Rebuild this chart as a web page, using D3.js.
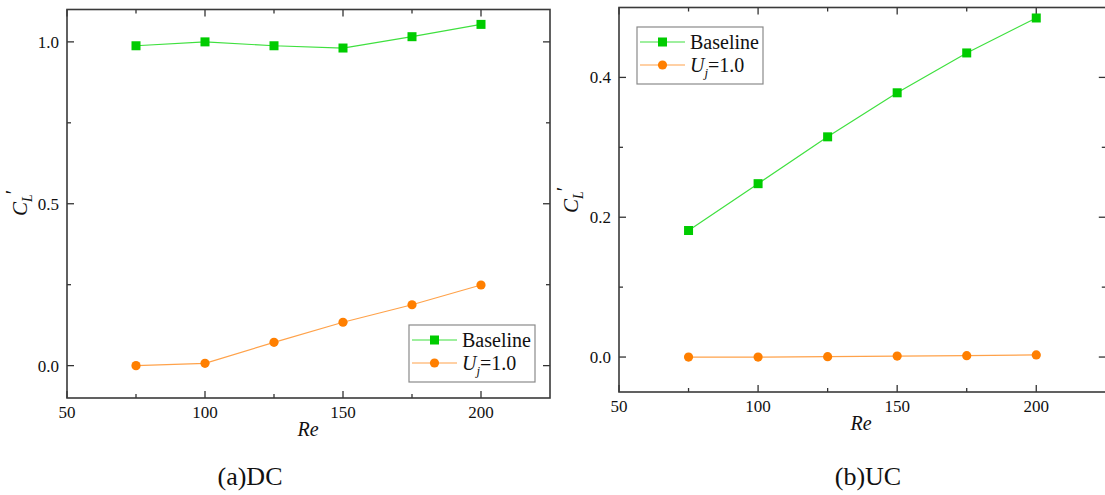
<!DOCTYPE html>
<html>
<head>
<meta charset="utf-8">
<style>
  @font-face { font-family: "ChartSerif"; src: local("Liberation Serif"), local("LiberationSerif"), local("Tinos"); font-style: normal; }
  @font-face { font-family: "ChartSerif"; src: local("Liberation Serif Italic"), local("LiberationSerif-Italic"), local("Tinos Italic"); font-style: italic; }
</style>
</head>
<body style="margin: 0; background: #fff;">
<script src="https://d3js.org/d3.v7.min.js"></script>
<script>

  // Reynolds numbers shared by both panels
  var reValues = [75, 100, 125, 150, 175, 200];

  // (a) DC
  var dcBaseline = [0.988, 1.0, 0.988, 0.981, 1.016, 1.054];
  var dcJet = [0.0, 0.007, 0.072, 0.134, 0.188, 0.249];
  var dcYTicks = [0.0, 0.5, 1.0];
  var dcYMinor = [0.25, 0.75];

  // (b) UC
  var ucBaseline = [0.181, 0.248, 0.315, 0.378, 0.435, 0.485];
  var ucJet = [0.0, 0.0, 0.0005, 0.0014, 0.002, 0.003];
  var ucYTicks = [0.0, 0.2, 0.4];
  var ucYMinor = [0.1, 0.3];

  var xTicks = [50, 100, 150, 200];
  var xMinor = [75, 125, 175];
  var seriesNames = ["Baseline", "Uj=1.0"];

  var width = 1105;
  var height = 495;
  var serif = "'Liberation Serif', ChartSerif, Tinos, 'Times New Roman', monospace";

  var svg = d3.select("body")
      .append("svg")
      .attr("width", width)
      .attr("height", height);

  var green = {line: "#3fe03f", fill: "#00cc00"};
  var orange = {line: "#ffa24a", fill: "#ff7f00"};

  function label(sel, size) {
    return sel.append("text")
        .attr("style", "font-family: " + serif + "; font-size: " + size + "px;")
        .attr("fill", "#111");
  }

  function drawPanel(p) {
    var x = d3.scaleLinear().domain([50, 225]).range([p.left, p.right]);
    var y = d3.scaleLinear().domain(p.yDomain).range([p.bottom, p.top]);
    var g = svg.append("g");

    // inward ticks, built by hand from the scales
    function ticks(values, size, side, labels) {
      values.forEach(function (v) {
        if (side === "bottom" || side === "top") {
          var yy = side === "bottom" ? p.bottom : p.top;
          var dir = side === "bottom" ? -1 : 1;
          g.append("line")
              .attr("x1", x(v)).attr("x2", x(v))
              .attr("y1", yy).attr("y2", yy + dir * size)
              .attr("stroke", "#333").attr("stroke-width", 1.3);
          if (labels) {
            label(g, 17).attr("x", x(v)).attr("y", p.bottom + 20)
                .attr("text-anchor", "middle").text(v);
          }
        } else {
          var xx = side === "left" ? p.left : p.right;
          var d = side === "left" ? 1 : -1;
          g.append("line")
              .attr("x1", xx).attr("x2", xx + d * size)
              .attr("y1", y(v)).attr("y2", y(v))
              .attr("stroke", "#333").attr("stroke-width", 1.3);
          if (labels) {
            label(g, 17).attr("x", p.left - 8).attr("y", y(v) + 6)
                .attr("text-anchor", "end").text(d3.format(".1f")(v));
          }
        }
      });
    }

    ticks(xTicks, 7, "bottom", true);
    ticks(xMinor, 4, "bottom", false);
    ticks(xTicks, 7, "top", false);
    ticks(xMinor, 4, "top", false);
    ticks(p.yTicks, 7, "left", true);
    ticks(p.yMinor, 4, "left", false);
    ticks(p.yTicks, 7, "right", false);
    ticks(p.yMinor, 4, "right", false);

    // frame
    g.append("rect")
        .attr("x", p.left).attr("y", p.top)
        .attr("width", p.right - p.left).attr("height", p.bottom - p.top)
        .attr("fill", "none").attr("stroke", "#3a3a3a").attr("stroke-width", 1.6);

    var line = d3.line()
        .x(function (d, i) { return x(reValues[i]); })
        .y(function (d) { return y(d); });

    // baseline series (squares)
    g.append("path").datum(p.baseline)
        .attr("d", line).attr("fill", "none")
        .attr("stroke", green.line).attr("stroke-width", 1.2);
    g.selectAll(".sq").data(p.baseline).enter()
        .append("rect")
        .attr("x", function (d, i) { return x(reValues[i]) - 4.5; })
        .attr("y", function (d) { return y(d) - 4.5; })
        .attr("width", 9).attr("height", 9)
        .attr("fill", green.fill);

    // jet series (circles)
    g.append("path").datum(p.jet)
        .attr("d", line).attr("fill", "none")
        .attr("stroke", orange.line).attr("stroke-width", 1.2);
    g.selectAll(".dot").data(p.jet).enter()
        .append("circle")
        .attr("cx", function (d, i) { return x(reValues[i]); })
        .attr("cy", function (d) { return y(d); })
        .attr("r", 4.6)
        .attr("fill", orange.fill);

    // axis titles
    label(g, 20)
        .attr("x", p.reX).attr("y", p.bottom + 38)
        .attr("text-anchor", "middle")
        .style("font-style", "italic")
        .text("Re");

    var yl = label(g, 21)
        .attr("transform", "translate(" + p.ylX + "," + p.ylY + ") rotate(-90)")
        .attr("text-anchor", "middle");
    yl.append("tspan").style("font-style", "italic").text("C");
    yl.append("tspan").style("font-style", "italic").style("font-size", "14px")
        .attr("dy", 5).text("L");
    yl.append("tspan").attr("dy", -12).style("font-size", "20px").text("\u2032");

    // legend
    var lg = g.append("g").attr("transform", "translate(" + p.legX + "," + p.legY + ")");
    lg.append("rect")
        .attr("width", 126).attr("height", 57)
        .attr("fill", "#fff").attr("stroke", "#8a8a8a").attr("stroke-width", 1.2);

    var rows = [
      {c: green, shape: "sq", yy: 15},
      {c: orange, shape: "dot", yy: 38}
    ];
    rows.forEach(function (r, i) {
      lg.append("line")
          .attr("x1", 3).attr("x2", 48).attr("y1", r.yy).attr("y2", r.yy)
          .attr("stroke", r.c.line).attr("stroke-width", 1.2);
      if (r.shape === "sq") {
        lg.append("rect").attr("x", 21).attr("y", r.yy - 4.5)
            .attr("width", 9).attr("height", 9).attr("fill", r.c.fill);
      } else {
        lg.append("circle").attr("cx", 25.5).attr("cy", r.yy).attr("r", 4.6)
            .attr("fill", r.c.fill);
      }
      var t = label(lg, 20)
          .attr("x", 53).attr("y", r.yy + 7);
      if (i === 0) {
        t.text(seriesNames[0]);
      } else {
        t.append("tspan").style("font-style", "italic").text("U");
        t.append("tspan").style("font-style", "italic").style("font-size", "13px")
            .attr("dy", 5).text("j");
        t.append("tspan").attr("dy", -5).text("=1.0");
      }
    });

    // caption
    label(svg, 26)
        .attr("x", p.capX).attr("y", 485)
        .attr("text-anchor", "middle")
        .text(p.caption);
  }

  drawPanel({
    left: 67, right: 550, top: 9.5, bottom: 398,
    yDomain: [-0.1, 1.1], yTicks: dcYTicks, yMinor: dcYMinor,
    baseline: dcBaseline, jet: dcJet,
    reX: 308, ylX: 27, ylY: 203,
    legX: 409, legY: 325,
    capX: 250, caption: "(a)DC"
  });

  drawPanel({
    left: 619, right: 1105.8, top: 7.5, bottom: 392,
    yDomain: [-0.05, 0.5], yTicks: ucYTicks, yMinor: ucYMinor,
    baseline: ucBaseline, jet: ucJet,
    reX: 861, ylX: 578, ylY: 200,
    legX: 637, legY: 27,
    capX: 868, caption: "(b)UC"
  });

</script>
</body>
</html>
